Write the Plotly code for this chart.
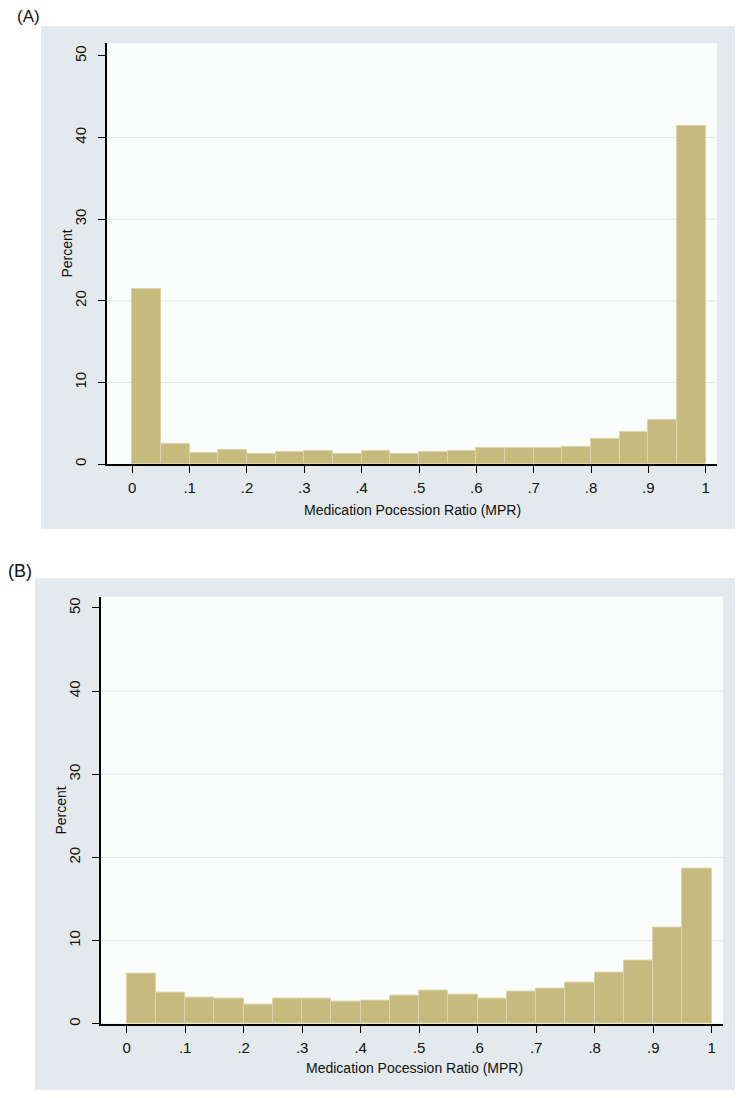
import plotly.graph_objects as go

# ---- data ----
bin_starts = [0.00, 0.05, 0.10, 0.15, 0.20, 0.25, 0.30, 0.35, 0.40, 0.45,
              0.50, 0.55, 0.60, 0.65, 0.70, 0.75, 0.80, 0.85, 0.90, 0.95]
bin_width = 0.05
percent_a = [21.5, 2.5, 1.43, 1.79, 1.22, 1.47, 1.63, 1.22, 1.63, 1.22,
             1.47, 1.67, 1.96, 1.96, 1.96, 2.16, 3.06, 4.0, 5.38, 41.4]
percent_b = [6.0, 3.72, 3.2, 3.0, 2.33, 3.0, 3.0, 2.69, 2.84, 3.36,
             4.05, 3.53, 3.0, 3.89, 4.2, 4.97, 6.2, 7.56, 11.6, 18.65]
x_tickvals = [0, 0.1, 0.2, 0.3, 0.4, 0.5, 0.6, 0.7, 0.8, 0.9, 1.0]
x_ticktext = ["0", ".1", ".2", ".3", ".4", ".5", ".6", ".7", ".8", ".9", "1"]
y_tickvals = [0, 10, 20, 30, 40, 50]
y_ticktext = ["0", "10", "20", "30", "40", "50"]
x_title = "Medication Pocession Ratio (MPR)"
y_title = "Percent"
panel_labels = ["(A)", "(B)"]

# the page body has an 8px default margin; compensate so page pixels match
OFF = 8
W, H = 743 - OFF, 1098 - OFF
BAR_FILL = "#C6BA7F"
BAR_LINE = "#DCD4A8"
OUTER = "#E3E9EC"
INNER = "#FBFCFC"
GRID = "#E2E8EA"
FONT = "Liberation Sans"
TXT = "#111"

fig = go.Figure()
fig.add_trace(go.Bar(x=bin_starts, y=percent_a, width=bin_width, offset=0,
                     marker=dict(color=BAR_FILL, line=dict(color=BAR_LINE, width=1)),
                     xaxis="x", yaxis="y", showlegend=False))
fig.add_trace(go.Bar(x=bin_starts, y=percent_b, width=bin_width, offset=0,
                     marker=dict(color=BAR_FILL, line=dict(color=BAR_LINE, width=1)),
                     xaxis="x2", yaxis="y2", showlegend=False))

def px_x(p):
    return (p - OFF) / W

def px_y(p):
    return 1 - (p - OFF) / H

def xaxis(domain, rng, anchor):
    return dict(domain=domain, range=rng, anchor=anchor,
                tickvals=x_tickvals, ticktext=x_ticktext,
                showline=True, linecolor="black", linewidth=1.5,
                ticks="outside", ticklen=7, tickwidth=1.3, tickcolor="black",
                showgrid=False, zeroline=False, ticklabelstandoff=2,
                tickfont=dict(family=FONT, size=15, color=TXT))

def yaxis(domain, rng, anchor):
    return dict(domain=domain, range=rng, anchor=anchor,
                tickvals=y_tickvals, ticktext=y_ticktext, tickangle=-90,
                showline=True, linecolor="black", linewidth=1.5,
                ticks="outside", ticklen=7, tickwidth=1.3, tickcolor="black",
                showgrid=False, zeroline=False, ticklabelstandoff=6,
                tickfont=dict(family=FONT, size=15, color=TXT))

fig.update_layout(
    width=W, height=H, autosize=False,
    margin=dict(l=0, r=0, t=0, b=0),
    paper_bgcolor="white", plot_bgcolor=INNER,
    bargap=0,
    xaxis=xaxis([px_x(107), px_x(717)], [-0.0441, 1.0197], "y"),
    yaxis=yaxis([px_y(465), px_y(43)], [0, 51.59], "x"),
    xaxis2=xaxis([px_x(101), px_x(723)], [-0.0439, 1.0193], "y2"),
    yaxis2=yaxis([px_y(1025.7), px_y(597.7)], [0, 51.36], "x2"),
)

shapes = [
    dict(type="rect", xref="paper", yref="paper", layer="below",
         x0=px_x(41), x1=px_x(736), y0=px_y(530), y1=px_y(26),
         fillcolor=OUTER, line=dict(width=0)),
    dict(type="rect", xref="paper", yref="paper", layer="below",
         x0=px_x(35), x1=px_x(741), y0=px_y(1092), y1=px_y(579),
         fillcolor=OUTER, line=dict(width=0)),
    dict(type="rect", xref="x domain", yref="y domain", layer="below",
         x0=0, x1=1, y0=0, y1=1, fillcolor=INNER, line=dict(width=0)),
    dict(type="rect", xref="x2 domain", yref="y2 domain", layer="below",
         x0=0, x1=1, y0=0, y1=1, fillcolor=INNER, line=dict(width=0)),
]
# gridlines at interior ticks (Stata style: none at min/max)
for yv in y_tickvals[1:-1]:
    for xr, yr in (("x", "y"), ("x2", "y2")):
        shapes.append(dict(type="line", xref=f"{xr} domain", yref=yr, layer="below",
                           x0=0, x1=1, y0=yv, y1=yv,
                           line=dict(color=GRID, width=1)))
fig.update_layout(shapes=shapes)

def label(text, x, y, size, angle=0, xanchor="center"):
    fig.add_annotation(text=text, xref="paper", yref="paper",
                       x=px_x(x), y=px_y(y), xanchor=xanchor, yanchor="middle",
                       textangle=angle, showarrow=False,
                       font=dict(family=FONT, size=size, color=TXT))

# panel labels
label(panel_labels[0], 15, 17, 17, xanchor="left")
label(panel_labels[1], 6, 572, 18, xanchor="left")
# axis titles
label(x_title, 412, 511, 14)
label(x_title, 414, 1070, 14)
label(y_title, 67, 254, 14, angle=-90)
label(y_title, 61, 812, 14, angle=-90)

fig.write_html("out.html")
